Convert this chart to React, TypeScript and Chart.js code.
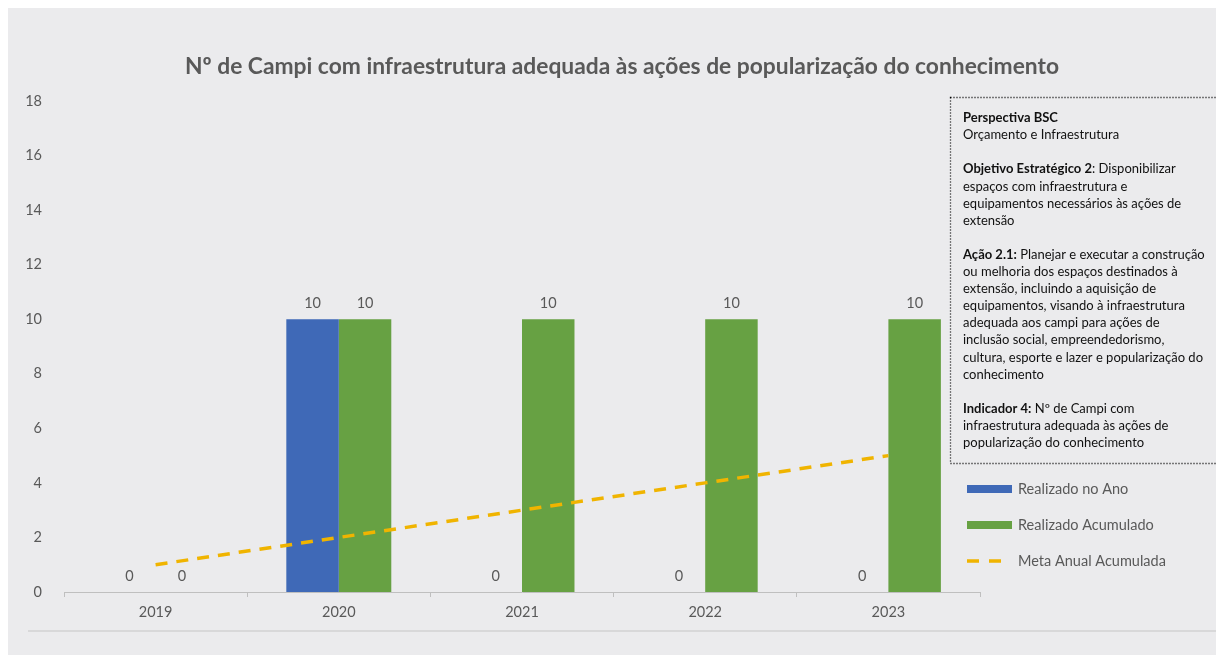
import React, { useEffect, useRef } from "react";
import { Chart, registerables } from "chart.js";

Chart.register(...registerables);

const categories = ["2019", "2020", "2021", "2022", "2023"];
const realizadoNoAno = [0, 10, 0, 0, 0];
const realizadoAcumulado = [0, 10, 10, 10, 10];
const metaAnualAcumulada = [1, 2, 3, 4, 5];
const seriesNames = ["Realizado no Ano", "Realizado Acumulado", "Meta Anual Acumulada"];
const yMin = 0;
const yMax = 18;
const yStep = 2;

const chartTitle = "Nº de Campi com infraestrutura adequada às ações de popularização do conhecimento";

// [bold part, regular part] per line; empty line = blank
const boxLines: [string, string][] = [
  ["Perspectiva BSC", ""],
  ["", "Orçamento e Infraestrutura"],
  ["", ""],
  ["Objetivo Estratégico 2", ": Disponibilizar"],
  ["", "espaços com infraestrutura e"],
  ["", "equipamentos necessários às ações de"],
  ["", "extensão"],
  ["", ""],
  ["Ação 2.1:", " Planejar e executar a construção"],
  ["", "ou melhoria dos espaços destinados à"],
  ["", "extensão, incluindo a aquisição de"],
  ["", "equipamentos, visando à infraestrutura"],
  ["", "adequada aos campi para ações de"],
  ["", "inclusão social, empreendedorismo,"],
  ["", "cultura, esporte e lazer e popularização do"],
  ["", "conhecimento"],
  ["", ""],
  ["Indicador 4:", " Nº de Campi com"],
  ["", "infraestrutura adequada às ações de"],
  ["", "popularização do conhecimento"],
];

const BLUE = "#3F69B7";
const GREEN = "#67A143";
const GOLD = "#F0B400";
const TEXT = "#595959";
const FONT = "Lato, 'Open Sans', sans-serif";

const overlayPlugin = {
  id: "overlay",
  afterDatasetsDraw(chart: any) {
    const ctx = chart.ctx;
    ctx.save();
    ctx.fillStyle = TEXT;
    ctx.font = `14.5px ${FONT}`;
    ctx.textAlign = "center";
    ctx.textBaseline = "middle";
    [0, 1].forEach((di) => {
      const meta = chart.getDatasetMeta(di);
      const data = chart.data.datasets[di].data;
      meta.data.forEach((el: any, i: number) => {
        ctx.fillText(String(data[i]), el.x, el.y - 16);
      });
    });
    ctx.restore();
  },
  afterDraw(chart: any) {
    const ctx = chart.ctx;
    const W = chart.width;
    ctx.save();
    // title
    ctx.fillStyle = "#595959";
    ctx.font = `bold 22.8px ${FONT}`;
    ctx.textAlign = "center";
    ctx.textBaseline = "middle";
    ctx.fillText(chartTitle, 614, 59);

    // bottom separator line
    ctx.strokeStyle = "#d2d2d2";
    ctx.lineWidth = 1.5;
    ctx.beginPath();
    ctx.moveTo(20, 623);
    ctx.lineTo(W, 623);
    ctx.stroke();

    // info box
    ctx.strokeStyle = "#000";
    ctx.lineWidth = 1.3;
    ctx.setLineDash([1, 2]);
    ctx.strokeRect(942.5, 89.5, W, 366);
    ctx.setLineDash([]);
    ctx.textAlign = "left";
    ctx.textBaseline = "middle";
    ctx.fillStyle = "#111";
    boxLines.forEach(([b, r], i) => {
      const y = 110 + i * 17.1;
      let x = 955;
      if (b) {
        ctx.font = `bold 13px ${FONT}`;
        ctx.fillText(b, x, y);
        x += ctx.measureText(b).width;
      }
      if (r) {
        ctx.font = `13px ${FONT}`;
        ctx.fillText(r, x, y);
      }
    });

    // legend
    const lx = 959;
    const ly = [481, 517, 553];
    ctx.fillStyle = BLUE;
    ctx.fillRect(lx, ly[0] - 4, 45, 8);
    ctx.fillStyle = GREEN;
    ctx.fillRect(lx, ly[1] - 4, 45, 8);
    ctx.strokeStyle = GOLD;
    ctx.lineWidth = 3.5;
    ctx.setLineDash([12, 10]);
    ctx.beginPath();
    ctx.moveTo(lx, ly[2]);
    ctx.lineTo(lx + 37, ly[2]);
    ctx.stroke();
    ctx.setLineDash([]);
    ctx.fillStyle = TEXT;
    ctx.font = `14.5px ${FONT}`;
    seriesNames.forEach((n, i) => ctx.fillText(n, 1010, ly[i]));
    ctx.restore();
  },
};

export default function App() {
  const ref = useRef<HTMLCanvasElement>(null);
  useEffect(() => {
    if (!ref.current) return;
    const chart = new Chart(ref.current, {
      type: "bar",
      data: {
        labels: categories,
        datasets: [
          {
            type: "bar",
            label: seriesNames[0],
            data: realizadoNoAno,
            backgroundColor: BLUE,
            barPercentage: 1,
            categoryPercentage: 0.573,
            order: 2,
          },
          {
            type: "bar",
            label: seriesNames[1],
            data: realizadoAcumulado,
            backgroundColor: GREEN,
            barPercentage: 1,
            categoryPercentage: 0.573,
            order: 2,
          },
          {
            type: "line",
            label: seriesNames[2],
            data: metaAnualAcumulada,
            borderColor: GOLD,
            borderWidth: 3.5,
            borderDash: [12, 9],
            pointRadius: 0,
            fill: false,
            tension: 0,
            order: 0,
          } as any,
        ],
      },
      options: {
        animation: false,
        responsive: false,
        maintainAspectRatio: false,
        layout: { padding: { top: 93, right: 236, left: 0, bottom: 0 } },
        plugins: {
          legend: { display: false },
          title: { display: false },
          tooltip: { enabled: false },
        },
        scales: {
          x: {
            offset: true,
            grid: {
              display: true,
              offset: true,
              drawOnChartArea: false,
              drawTicks: true,
              tickLength: 5,
              color: "#bfbfbf",
            },
            border: { display: true, color: "#bfbfbf", width: 1 },
            ticks: { color: TEXT, font: { family: FONT, size: 14.5 }, padding: 7 },
            afterFit: (s: any) => {
              s.height = 63;
            },
          },
          y: {
            min: yMin,
            max: yMax,
            grid: { display: false },
            border: { display: false },
            ticks: {
              stepSize: yStep,
              color: TEXT,
              font: { family: FONT, size: 14.5 },
              padding: 14,
            },
            afterFit: (s: any) => {
              s.width = 56;
            },
          },
        },
      },
      plugins: [overlayPlugin],
    });
    return () => chart.destroy();
  }, []);
  return (
    <div
      style={{
        position: "fixed",
        left: 8,
        top: 8,
        width: 1208,
        height: 647,
        background: "#ebebed",
      }}
    >
      <canvas ref={ref} width={1208} height={647} style={{ display: "block" }} />
    </div>
  );
}
